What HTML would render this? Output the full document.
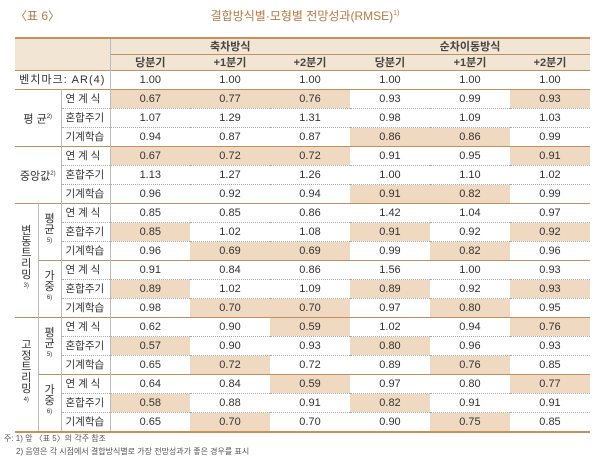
<!DOCTYPE html>
<html><head><meta charset="utf-8"><style>
body{margin:0;background:#fff;width:600px;height:458px;position:relative;overflow:hidden;font-family:"Liberation Sans","Noto Sans CJK KR",sans-serif;color:#333}
.t1{position:absolute;left:15px;top:7px;font-size:12px;color:#b57a40}
.t2{position:absolute;left:0;width:600px;text-align:center;top:7px;font-size:12px;color:#b57a40;padding-left:10px;box-sizing:border-box}
.t2 sup{font-size:7px}
table{position:absolute;left:15px;top:37px;width:575px;border-collapse:collapse;table-layout:fixed;font-size:11px}
td{padding:0;text-align:center;height:18px;border-top:1px dotted #aaa;line-height:12px;white-space:nowrap;overflow:hidden}
tr.g td{border-top:1px solid #c09060}
thead td{background:#f3e5d4;border:none;height:15px;font-weight:bold;color:#444}
.top td{border-top:2px solid #c8905a}
.bot{border-bottom:2px solid #c8905a}
.h{background:#efd9c0}
.l{border-right:1px solid #bbb}
.lab{text-align:left;padding-left:4px;font-size:10.5px}
.v{line-height:11px;font-size:11px;white-space:normal}
.v sup,.sm{font-size:6px}
.n{position:absolute;left:4px;font-size:8px;color:#555;white-space:nowrap}
</style></head><body>
<div class="t1">〈표 6〉</div>
<div class="t2">결합방식별·모형별 전망성과(RMSE)<sup>1)</sup></div>
<table>
<colgroup><col style="width:23px"><col style="width:23px"><col style="width:49px"><col><col><col><col><col><col></colgroup>
<thead>
<tr class="top"><td colspan="3" rowspan="2" class="l"></td><td colspan="3" style="border-bottom:1px solid #c09060">축차방식</td><td colspan="3" style="border-bottom:1px solid #c09060">순차이동방식</td></tr>
<tr><td>당분기</td><td>+1분기</td><td>+2분기</td><td>당분기</td><td>+1분기</td><td>+2분기</td></tr>
</thead>
<tbody>
<tr class="g"><td colspan="3" class="l" style="letter-spacing:1px">벤치마크: AR(4)</td><td>1.00</td><td>1.00</td><td>1.00</td><td>1.00</td><td>1.00</td><td>1.00</td></tr>
<tr class="g"><td colspan="2" rowspan="3" class="l">평 균<sup class="sm">2)</sup></td><td class="lab l">연 계 식</td><td class="h">0.67</td><td class="h">0.77</td><td class="h">0.76</td><td>0.93</td><td>0.99</td><td class="h">0.93</td></tr>
<tr><td class="lab l">혼합주기</td><td>1.07</td><td>1.29</td><td>1.31</td><td>0.98</td><td>1.09</td><td>1.03</td></tr>
<tr><td class="lab l">기계학습</td><td>0.94</td><td>0.87</td><td>0.87</td><td class="h">0.86</td><td class="h">0.86</td><td>0.99</td></tr>
<tr class="g"><td colspan="2" rowspan="3" class="l">중앙값<sup class="sm">2)</sup></td><td class="lab l">연 계 식</td><td class="h">0.67</td><td class="h">0.72</td><td class="h">0.72</td><td>0.91</td><td>0.95</td><td class="h">0.91</td></tr>
<tr><td class="lab l">혼합주기</td><td>1.13</td><td>1.27</td><td>1.26</td><td>1.00</td><td>1.10</td><td>1.02</td></tr>
<tr><td class="lab l">기계학습</td><td>0.96</td><td>0.92</td><td>0.94</td><td class="h">0.91</td><td class="h">0.82</td><td>0.99</td></tr>
<tr class="g"><td rowspan="6" class="l v">변<br>동<br>트<br>리<br>밍<br><sup>3)</sup></td><td rowspan="3" class="l v">평<br>균<br><sup>5)</sup></td><td class="lab l">연 계 식</td><td>0.85</td><td>0.85</td><td>0.86</td><td>1.42</td><td>1.04</td><td>0.97</td></tr>
<tr><td class="lab l">혼합주기</td><td class="h">0.85</td><td>1.02</td><td>1.08</td><td class="h">0.91</td><td>0.92</td><td class="h">0.92</td></tr>
<tr><td class="lab l">기계학습</td><td>0.96</td><td class="h">0.69</td><td class="h">0.69</td><td>0.99</td><td class="h">0.82</td><td>0.96</td></tr>
<tr class="g"><td rowspan="3" class="l v">가<br>중<br><sup>6)</sup></td><td class="lab l">연 계 식</td><td>0.91</td><td>0.84</td><td>0.86</td><td>1.56</td><td>1.00</td><td>0.93</td></tr>
<tr><td class="lab l">혼합주기</td><td class="h">0.89</td><td>1.02</td><td>1.09</td><td class="h">0.89</td><td>0.92</td><td class="h">0.93</td></tr>
<tr><td class="lab l">기계학습</td><td>0.98</td><td class="h">0.70</td><td class="h">0.70</td><td>0.97</td><td class="h">0.80</td><td>0.95</td></tr>
<tr class="g"><td rowspan="6" class="l v">고<br>정<br>트<br>리<br>밍<br><sup>4)</sup></td><td rowspan="3" class="l v">평<br>균<br><sup>5)</sup></td><td class="lab l">연 계 식</td><td>0.62</td><td>0.90</td><td class="h">0.59</td><td>1.02</td><td>0.94</td><td class="h">0.76</td></tr>
<tr><td class="lab l">혼합주기</td><td class="h">0.57</td><td>0.90</td><td>0.93</td><td class="h">0.80</td><td>0.96</td><td>0.93</td></tr>
<tr><td class="lab l">기계학습</td><td>0.65</td><td class="h">0.72</td><td>0.72</td><td>0.89</td><td class="h">0.76</td><td>0.85</td></tr>
<tr class="g"><td rowspan="3" class="l v">가<br>중<br><sup>6)</sup></td><td class="lab l">연 계 식</td><td>0.64</td><td>0.84</td><td class="h">0.59</td><td>0.97</td><td>0.80</td><td class="h">0.77</td></tr>
<tr><td class="lab l">혼합주기</td><td class="h">0.58</td><td>0.88</td><td>0.91</td><td class="h">0.82</td><td>0.91</td><td>0.91</td></tr>
<tr class="bot"><td class="lab l">기계학습</td><td>0.65</td><td class="h">0.70</td><td>0.70</td><td>0.90</td><td class="h">0.75</td><td>0.85</td></tr>
</tbody></table>
<div class="n" style="top:433px">주: 1) 앞 〈표 5〉의 각주 참조</div>
<div class="n" style="top:446px;left:16px">2) 음영은 각 시점에서 결합방식별로 가장 전망성과가 좋은 경우를 표시</div>
</body></html>
